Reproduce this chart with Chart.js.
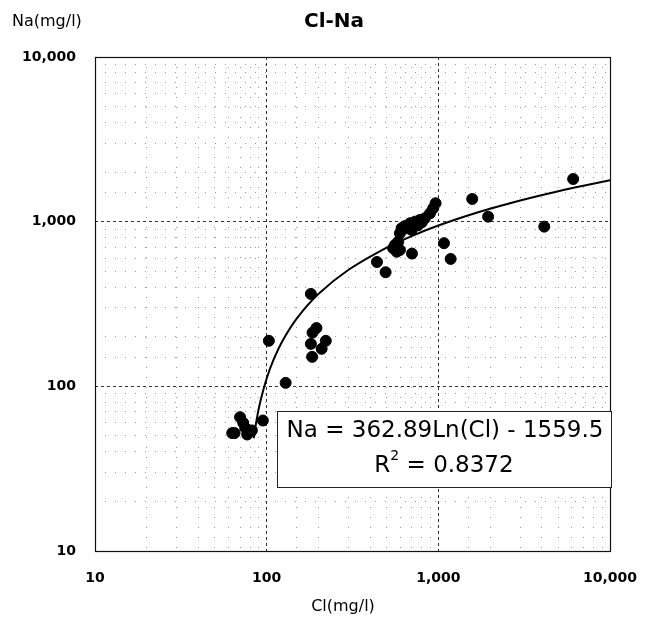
<!DOCTYPE html>
<html>
<head>
<meta charset="utf-8">
<script src="https://cdn.jsdelivr.net/npm/chart.js@4.4.1/dist/chart.umd.min.js"></script>
<style>
  html, body { margin: 0; padding: 0; background: #fff; }
  #wrap { width: 652px; height: 624px; }
</style>
</head>
<body>
<div id="wrap"><canvas id="cv" width="652" height="624"></canvas></div>
<script>
// measured samples, Cl vs Na (mg/l)
var clValues = [103, 95, 129, 181, 195, 185, 181, 221, 209, 184,
  70, 75, 65, 77, 82, 73, 63,
  439, 493, 702, 1079, 1180, 1575, 1950, 4140, 6100,
  964, 934, 894, 835, 781, 731, 684, 654, 611, 597, 699, 584, 559, 597, 572, 545, 760, 640, 800];
var naValues = [189, 62, 105, 364, 226, 212, 181, 189, 169, 151,
  65, 56, 52, 51, 54, 60, 52,
  569, 493, 640, 740, 594, 1374, 1072, 933, 1816,
  1294, 1206, 1124, 1049, 1024, 1000, 978, 912, 912, 850, 891, 756, 722, 673, 657, 690, 950, 940, 990];

// log trendline printed on the chart: Na = 362.89Ln(Cl) - 1559.5
var trendA = 362.89;
var trendB = -1559.5;
var trendX = [84, 88, 92, 100, 110, 125, 150, 200, 300, 500, 700, 1000, 1500, 2000, 3000, 5000, 7000, 10000];

var tickLabels = ['10', '100', '1,000', '10,000'];

var pts = [];
for (var i = 0; i < clValues.length; i++) pts.push({x: clValues[i], y: naValues[i]});
var trend = trendX.map(function (x) { return {x: x, y: trendA * Math.log(x) + trendB}; });

function isMajor(v) {
  var l = Math.log10(v);
  return Math.abs(l - Math.round(l)) < 1e-6;
}
function majorLabel(v) {
  if (!isMajor(v)) return '';
  return tickLabels[Math.round(Math.log10(v)) - 1];
}

var FONT = '"DejaVu Sans", "Liberation Sans", sans-serif';

var textPlugin = {
  id: 'texts',
  afterDraw: function (chart) {
    var ctx = chart.ctx, a = chart.chartArea;
    ctx.save();
    // plot frame
    ctx.strokeStyle = '#111';
    ctx.lineWidth = 1.2;
    ctx.setLineDash([]);
    ctx.strokeRect(a.left + 0.5, a.top + 0.5, a.right - a.left, a.bottom - a.top);

    // equation box
    var bx = 277, by = 411, bw = 334, bh = 76;
    ctx.fillStyle = '#fff';
    ctx.fillRect(bx, by, bw, bh);
    ctx.lineWidth = 1;
    ctx.strokeStyle = '#222';
    ctx.strokeRect(bx + 0.5, by + 0.5, bw, bh);
    ctx.fillStyle = '#000';
    ctx.textBaseline = 'middle';
    ctx.textAlign = 'center';
    ctx.font = '23px ' + FONT;
    ctx.fillText('Na = 362.89Ln(Cl) - 1559.5', bx + bw / 2 + 1, 431);
    var r = 'R', rest = ' = 0.8372';
    var wR = ctx.measureText(r).width, wRest = ctx.measureText(rest).width;
    ctx.font = '14px ' + FONT;
    var wS = ctx.measureText('2').width;
    var sx = bx + bw / 2 - (wR + wS + wRest) / 2;
    ctx.textAlign = 'left';
    ctx.font = '23px ' + FONT;
    ctx.fillText(r, sx, 466);
    ctx.font = '14px ' + FONT;
    ctx.fillText('2', sx + wR, 456);
    ctx.font = '23px ' + FONT;
    ctx.fillText(rest, sx + wR + wS, 466);

    // titles
    ctx.textAlign = 'center';
    ctx.font = 'bold 20px ' + FONT;
    ctx.fillText('Cl-Na', 334, 22);
    ctx.textAlign = 'left';
    ctx.font = '16px ' + FONT;
    ctx.fillText('Na(mg/l)', 12, 22);
    ctx.textAlign = 'center';
    ctx.fillText('Cl(mg/l)', 343, 607);
    ctx.restore();
  }
};

new Chart(document.getElementById('cv'), {
  type: 'scatter',
  data: {
    datasets: [{
      label: 'Na',
      data: pts,
      backgroundColor: '#000',
      borderColor: '#000',
      pointRadius: 5.5,
      pointHoverRadius: 5.5,
      order: 1
    }, {
      label: 'trend',
      data: trend,
      showLine: true,
      borderColor: '#000',
      borderWidth: 2,
      pointRadius: 0,
      tension: 0.3,
      order: 2
    }]
  },
  options: {
    responsive: false,
    animation: false,
    layout: { padding: { top: 57, right: 42, bottom: 0, left: 0 } },
    plugins: { legend: { display: false }, tooltip: { enabled: false } },
    scales: {
      x: {
        type: 'logarithmic',
        min: 10, max: 10000,
        afterFit: function (s) { s.height = 73; s.paddingLeft = 0; s.paddingRight = 0; },
        border: { display: false, dash: function (c) { return isMajor(c.tick.value) ? [3, 3] : [1, 9]; } },
        grid: {
          color: function (c) { return isMajor(c.tick.value) ? '#333' : '#999'; },
          lineWidth: 1,
          drawTicks: false
        },
        ticks: {
          autoSkip: false,
          maxRotation: 0,
          padding: 19,
          color: '#000',
          font: { family: FONT, size: 14, weight: 'bold' },
          callback: function (v) { return majorLabel(v); }
        }
      },
      y: {
        type: 'logarithmic',
        min: 10, max: 10000,
        afterFit: function (s) { s.width = 95; s.paddingTop = 0; s.paddingBottom = 0; },
        border: { display: false, dash: function (c) { return isMajor(c.tick.value) ? [3, 3] : [1, 9]; } },
        grid: {
          color: function (c) { return isMajor(c.tick.value) ? '#333' : '#999'; },
          lineWidth: 1,
          drawTicks: false
        },
        ticks: {
          autoSkip: false,
          padding: 19,
          color: '#000',
          font: { family: FONT, size: 14, weight: 'bold' },
          callback: function (v) { return majorLabel(v); }
        }
      }
    }
  },
  plugins: [textPlugin]
});
</script>
</body>
</html>
